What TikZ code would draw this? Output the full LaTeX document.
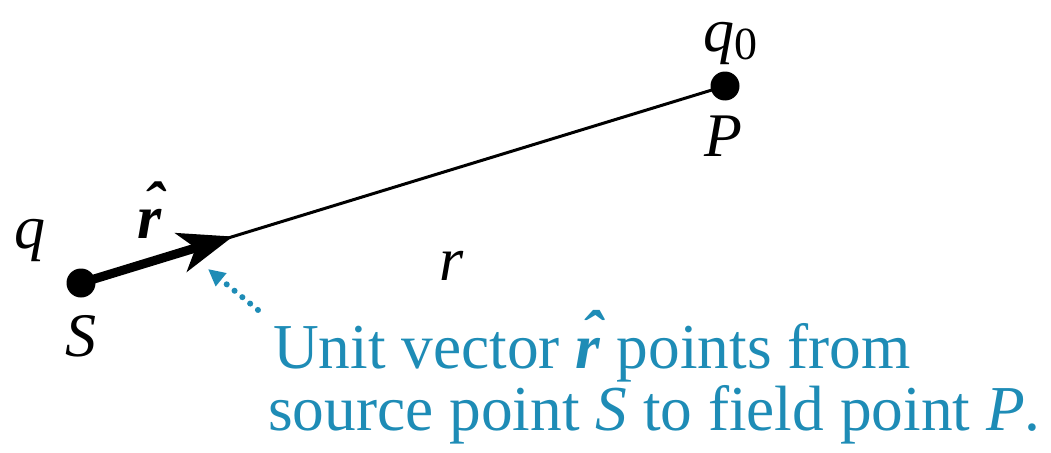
\documentclass[tikz,border=0pt]{standalone}
\usepackage{fontspec}
\setmainfont{Liberation Serif}
\newfontfamily\capfont[FakeStretch=0.99]{Liberation Serif}
\usetikzlibrary{arrows.meta,calc}
\definecolor{capcyan}{RGB}{30,140,182}
\newcommand\myrhat{\textbf{\textit{\makebox[0pt][l]{\hspace{0.09em}\raisebox{0.2em}{\char"02C6}}r}}}
\begin{document}
\begin{tikzpicture}[x=1pt,y=-1pt,
  dot/.style={circle,fill=black,inner sep=0pt,minimum size=29pt},
  lbl/.style={font=\fontsize{62}{62}\selectfont\itshape,inner sep=0pt},
  captext/.style={font=\capfont\fontsize{64}{64}\selectfont,text=capcyan,inner sep=0pt,anchor=base west}]
\useasboundingbox (0,0) rectangle (1051,452);
\node[dot] (S) at (81,283) {};
\node[dot] (P) at (725,86) {};
\draw[line width=3pt] (S.center) -- (P.center);
\coordinate (tip) at ($(S.center)!0.236!(P.center)$);
\draw[line width=9pt,-{Stealth[length=54pt,width=40pt,inset=15pt]}] (S.center) -- (tip);
\coordinate (dtail) at (258,310);
\coordinate (dtip) at (208,269);
\draw[capcyan,line width=6pt,line cap=round,dash pattern=on 0.1pt off 10pt,-{Triangle[length=17pt,width=16pt]}] (dtail) -- (dtip);
\node[lbl] (q) at (30,240) {q};
\node[lbl] (Sl) at (81,336) {S};
\node[lbl,anchor=base] (q0) at (730,52) {q\raisebox{-8pt}{\upshape\fontsize{46}{46}\selectfont 0}};
\node[lbl] (Pl) at (723,136) {P};
\node[lbl,font=\fontsize{62}{62}\selectfont] (rh) at (150,210) {\myrhat};
\node[lbl] (r) at (452,266) {r};
\node[captext] (c1) at (273,368) {Unit vector \myrhat\ points from};
\node[captext] (c2) at (268,430) {source point \textit{S} to field point \textit{P}.};
\end{tikzpicture}
\end{document}
